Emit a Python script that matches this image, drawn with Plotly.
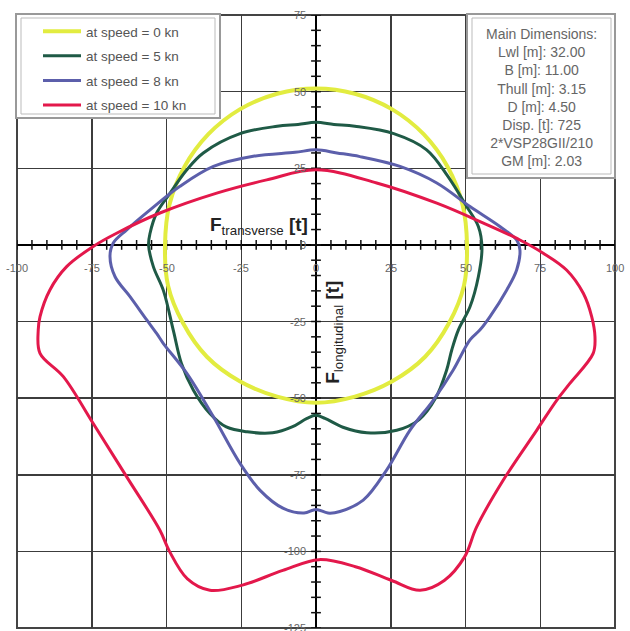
import plotly.graph_objects as go

# ---------------- data ----------------
series_names = ["at speed = 0 kn", "at speed = 5 kn", "at speed = 8 kn", "at speed = 10 kn"]

speed0_x = [0, 13, 25.5, 36, 44, 49, 50.5, 49.5, 44.5, 36.5, 25.5, 13, 0,
            -13, -25.5, -36.5, -44.5, -49.5, -50.5, -49, -44, -36, -25.5, -13, 0]
speed0_y = [51, 49.3, 44.2, 36.1, 25.5, 13.2, 0, -13.2, -25.5, -36.5, -44.5, -49.5, -51.5,
            -49.5, -44.5, -36.5, -25.5, -13.2, 0, 13.2, 25.5, 36.1, 44.2, 49.3, 51]

speed5_x = [0, 6, 13, 26, 37, 44, 50.4, 54.3, 55.5, 54.3, 51.5, 47.6, 45.4, 43.7, 40, 34.5,
            27, 17, 9, 3, 0, -3, -8, -14.5, -23, -30, -35.5, -41, -45, -47.7, -51, -54.4,
            -56, -55.5, -53.3, -48.8, -43.2, -37.7, -25.4, -13, -6, 0]
speed5_y = [40, 39.3, 38.7, 36.3, 31, 22.5, 12.5, 6, -1, -10.4, -20.2, -27.8, -34.3, -40.8, -50, -57,
            -60.5, -61.3, -59.5, -56.6, -55.6, -56.6, -59.4, -61.3, -61, -59.4, -55, -47.4, -38.7, -28, -15, -7.1,
            0, 3.8, 10.4, 16.9, 24.5, 30, 36.3, 38.7, 39.3, 40]

speed8_x = [0, 7, 14.7, 28.1, 40.4, 51.5, 61.5, 67.1, 68.2, 67.1, 63.8, 58.2, 54.8, 51.5, 45.9,
            39.2, 31.4, 23.6, 15.8, 8, 4, 0, -4, -10.9, -18.7, -25.4, -34.3, -43.2, -51.1, -53.3,
            -56.6, -62.2, -67.2, -68.9, -67.8, -63.3, -55.5, -45.5, -34.3, -21, -7, 0]
speed8_y = [31, 30, 28.8, 25.6, 20.2, 12.5, 6, 1.6, -1.6, -8.2, -14.7, -23.4, -27.8, -31, -40.8,
            -50.7, -60.5, -73.5, -83.3, -87, -87.5, -86.3, -87.5, -86, -80.1, -71.3, -56.1, -41.9, -32.1, -28.9,
            -24.5, -16.9, -10.4, -3.8, 0.6, 4.9, 11.4, 19.1, 25.6, 28.9, 30.2, 31]

speed10_x = [0, 20.3, 40.4, 56, 68.2, 76, 83.8, 89.4, 92.2, 93.3, 92.7, 84.9, 80.5, 73.8, 62.6,
             53.7, 49.7, 42.9, 34.8, 25.3, 13.2, 1, -11.1, -24.6, -35.5, -43, -49, -52.2, -63.3,
             -74.5, -84.5, -92.3, -92.9, -92.3, -89, -83.4, -74.5, -66.7, -52.2, -33.2, -16.5, 0]
speed10_y = [24.5, 20.2, 13.6, 7.1, 1.6, -2.7, -8.2, -15.8, -23.4, -30, -35.4, -45.2, -50.7, -60.5, -76.8,
             -92.1, -101.8, -109.5, -112.7, -109.5, -105, -102.7, -106.2, -111, -112.7, -109, -100, -93.1, -75.7,
             -58.3, -43, -35.4, -27.8, -23.4, -14.7, -7.1, -0.5, 3.8, 10.4, 16.9, 21.2, 24.5]

x_tick_vals = [-100, -75, -50, -25, 0, 25, 50, 75, 100]
x_tick_text = ["-100", "-75", "-50", "-25", "0", "25", "50", "75", "100"]
y_tick_vals = [75, 50, 25, 0, -25, -50, -75, -100, -125]
y_tick_text = ["75", "50", "25", "0", "-25", "-50", "-75", "-100", "-125"]
minor_step = 5
x_minor_vals = list(range(-100, 101, minor_step))
y_minor_vals = list(range(-125, 76, minor_step))

info_lines = ["Main Dimensions:", "Lwl [m]: 32.00", "B [m]: 11.00", "Thull [m]: 3.15",
              "D [m]: 4.50", "Disp. [t]: 725", "2*VSP28GII/210", "GM [m]: 2.03"]

# ---------------- styling ----------------
colors = ["#e2ec40", "#1f5a46", "#5c5fab", "#e3184b"]
widths = [4, 3, 3, 3]
curves = [(speed0_x, speed0_y), (speed5_x, speed5_y), (speed8_x, speed8_y), (speed10_x, speed10_y)]

fig = go.Figure()

# minor tick marks along the centre axes
fig.add_trace(go.Scatter(x=x_minor_vals, y=[0] * len(x_minor_vals), mode="markers",
                         marker=dict(symbol="line-ns", size=7, line=dict(width=1.5, color="#111")),
                         showlegend=False, hoverinfo="skip"))
fig.add_trace(go.Scatter(x=[0] * len(y_minor_vals), y=y_minor_vals, mode="markers",
                         marker=dict(symbol="line-ew", size=7, line=dict(width=1.5, color="#111")),
                         showlegend=False, hoverinfo="skip"))

for i, (name, (cx, cy)) in enumerate(zip(series_names, curves)):
    fig.add_trace(go.Scatter(x=cx, y=cy, mode="lines", name=name, legendgroup=f"g{i}",
                             line=dict(color=colors[i], width=widths[i], shape="spline", smoothing=1.0),
                             hoverinfo="skip"))

ann = []
for v, t in zip(x_tick_vals, x_tick_text):
    ann.append(dict(x=v, y=0, xref="x", yref="y", text=t, showarrow=False,
                    yshift=-23, xanchor="center", yanchor="middle",
                    font=dict(size=11, color="#666", family="Liberation Sans, Arial")))
for v, t in zip(y_tick_vals, y_tick_text):
    ann.append(dict(x=0, y=v, xref="x", yref="y", text=t, showarrow=False,
                    xshift=-8, xanchor="right", yanchor="middle",
                    font=dict(size=11, color="#666", family="Liberation Sans, Arial")))

ann.append(dict(x=-2, y=6, xref="x", yref="y", showarrow=False, xanchor="right", yanchor="middle",
                text="<b>F</b><sub>transverse</sub> <b>[t]</b>",
                font=dict(size=19, color="#222", family="Liberation Sans, Arial")))
ann.append(dict(x=6.2, y=-28.5, xref="x", yref="y", showarrow=False, textangle=-90,
                xanchor="center", yanchor="middle",
                text="<b>F</b><sub>longitudinal</sub> <b>[t]</b>",
                font=dict(size=19, color="#222", family="Liberation Sans, Arial")))

def px_x(p):
    return (p - 17) / 598.0

def px_y(p):
    return 1 - (p - 15) / 613.0

ann.append(dict(x=px_x(541), y=px_y(97.5), xref="paper", yref="paper", showarrow=False,
                xanchor="center", yanchor="middle", align="center",
                text="<br>".join(info_lines),
                font=dict(size=14, color="#666", family="Liberation Sans, Arial")))

shapes = [
    # plot frame
    dict(type="rect", xref="paper", yref="paper", x0=0, x1=1, y0=0, y1=1,
         line=dict(color="#444", width=2), layer="below"),
    # legend box
    dict(type="rect", xref="paper", yref="paper", x0=px_x(16), x1=px_x(220), y0=px_y(118), y1=px_y(14),
         line=dict(color="#999", width=2), fillcolor="white", layer="above"),
    dict(type="rect", xref="paper", yref="paper", x0=px_x(21), x1=px_x(215), y0=px_y(114), y1=px_y(18),
         line=dict(color="#bbb", width=1), layer="above"),
    # info box
    dict(type="rect", xref="paper", yref="paper", x0=px_x(467), x1=px_x(615), y0=px_y(178), y1=px_y(14),
         line=dict(color="#999", width=2), fillcolor="white", layer="above"),
    dict(type="rect", xref="paper", yref="paper", x0=px_x(472), x1=px_x(611), y0=px_y(174), y1=px_y(18),
         line=dict(color="#bbb", width=1), layer="above"),
]

axis_common = dict(showgrid=True, gridcolor="#3c3c3c", gridwidth=1.5,
                   showticklabels=False, ticks="", zeroline=True, zerolinecolor="#000",
                   zerolinewidth=2, showline=False, fixedrange=True)

fig.update_layout(
    width=630, height=631,
    margin=dict(l=17, r=15, t=15, b=3, autoexpand=False),
    paper_bgcolor="white", plot_bgcolor="white",
    xaxis=dict(range=[-100, 100], tickvals=x_tick_vals, **axis_common),
    yaxis=dict(range=[-125, 75], tickvals=y_tick_vals, **axis_common),
    showlegend=True,
    legend=dict(x=px_x(38), y=px_y(16), xanchor="left", yanchor="top",
                bgcolor="rgba(0,0,0,0)", borderwidth=0, tracegroupgap=4,
                font=dict(size=13.5, color="#555", family="Liberation Sans, Arial"),
                itemwidth=38),
    annotations=ann,
    shapes=shapes,
)

fig.write_html("out.html", config={"displayModeBar": False, "staticPlot": True},
               post_script="document.body.style.margin='0';document.body.style.overflow='hidden';")
